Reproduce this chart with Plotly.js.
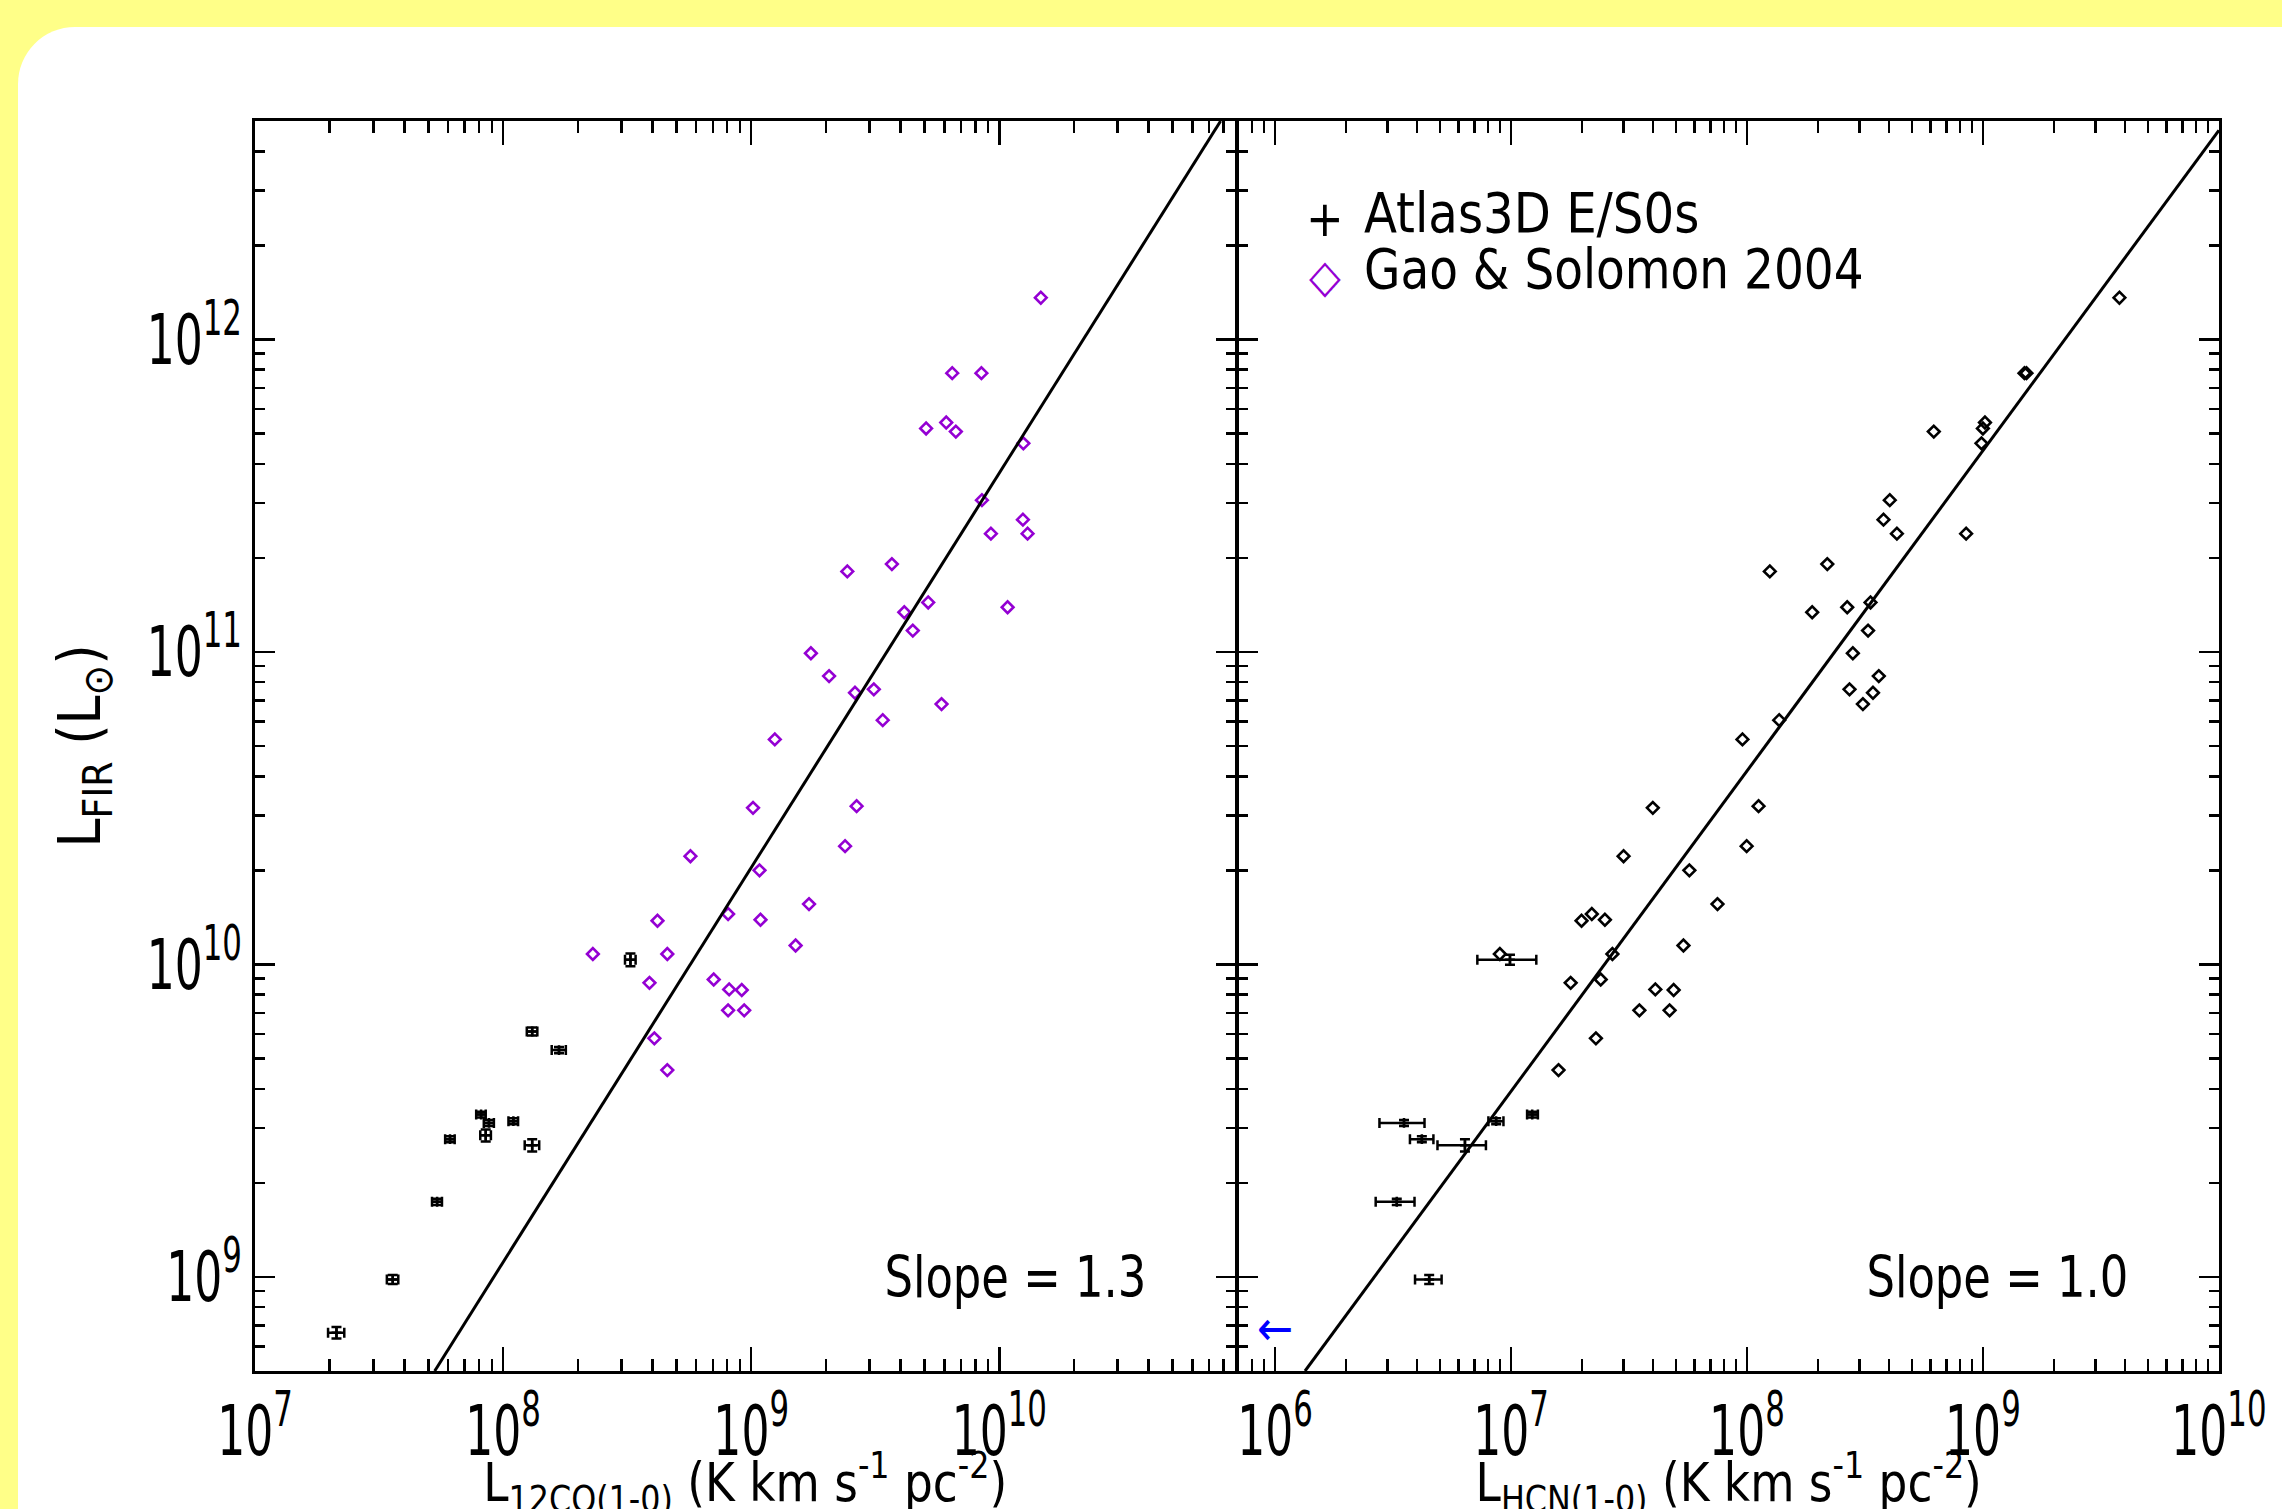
<!DOCTYPE html>
<html>
<head>
<meta charset="utf-8">
<script src="https://cdn.plot.ly/plotly-3.0.1.min.js"></script>
<style>
html, body { margin:0; padding:0; width:2282px; height:1509px; overflow:hidden; background:#ffff88; }
#panel { position:absolute; left:18px; top:27px; width:2400px; height:1600px; background:#ffffff; border-radius:57px; }
#chart { position:absolute; left:0; top:0; width:2282px; height:1509px; }
</style>
</head>
<body>
<div id="panel"></div>
<div id="chart"></div>
<script>
// ---------------- data ----------------
// Gao & Solomon 2004 sample
const gsFIR = [1.36e12, 7.8e11, 7.8e11, 5.19e11, 5.42e11, 5.07e11, 4.65e11, 3.06e11, 2.65e11, 2.39e11, 2.39e11,
  1.81e11, 1.91e11, 1.44e11, 1.34e11, 1.17e11, 1.39e11, 9.9e10, 8.37e10, 7.4e10, 7.59e10, 6.05e10, 6.81e10,
  5.25e10, 3.17e10, 3.21e10, 2.22e10, 2.39e10, 2.0e10, 1.56e10, 1.38e10, 1.45e10, 1.39e10, 1.15e10, 1.08e10,
  1.08e10, 8.73e9, 8.95e9, 8.32e9, 8.28e9, 7.13e9, 7.13e9, 5.8e9, 4.59e9];
const gsCO = [1.47e10, 6.46e9, 8.47e9, 5.07e9, 6.11e9, 6.68e9, 1.25e10, 8.51e9, 1.245e10, 9.25e9, 1.30e10,
  2.44e9, 3.69e9, 5.17e9, 4.14e9, 4.48e9, 1.08e10, 1.74e9, 2.06e9, 2.62e9, 3.12e9, 3.39e9, 5.85e9,
  1.245e9, 1.017e9, 2.66e9, 5.69e8, 2.39e9, 1.08e9, 1.71e9, 4.19e8, 8.07e8, 1.09e9, 1.51e9, 2.30e8,
  4.59e8, 3.89e8, 7.06e8, 8.15e8, 9.16e8, 8.07e8, 9.37e8, 4.07e8, 4.59e8];
const gsHCN = [3.79e9, 1.50e9, 1.53e9, 1.0e9, 1.02e9, 6.19e8, 9.86e8, 4.03e8, 3.79e8, 4.32e8, 8.49e8,
  1.25e8, 2.19e8, 3.34e8, 1.89e8, 3.26e8, 2.66e8, 2.81e8, 3.62e8, 3.42e8, 2.72e8, 1.37e8, 3.10e8,
  9.57e7, 3.99e7, 1.12e8, 3.0e7, 9.97e7, 5.7e7, 7.5e7, 1.99e7, 2.2e7, 2.5e7, 5.38e7, 8.97e6,
  2.69e7, 1.79e7, 2.4e7, 4.09e7, 4.89e7, 3.5e7, 4.7e7, 2.29e7, 1.59e7];

// Atlas3D E/S0s, CO panel
const atlasCO     = [2.13e7, 3.59e7, 5.42e7, 6.11e7, 8.15e7, 8.77e7, 8.51e7, 1.10e8, 1.31e8, 1.31e8, 1.68e8, 3.26e8];
const atlasCOerr  = [1.6e6, 1.9e6, 2.5e6, 2.7e6, 3.6e6, 4.1e6, 4.2e6, 4.9e6, 8.8e6, 6.4e6, 1.1e7, 1.6e7];
const atlasFIR    = [6.63e8, 9.82e8, 1.74e9, 2.76e9, 3.31e9, 3.11e9, 2.84e9, 3.15e9, 2.64e9, 6.1e9, 5.32e9, 1.035e10];
const atlasFIRerr = [2.8e7, 3.2e7, 4e7, 6e7, 7e7, 7e7, 1.25e8, 7e7, 1.2e8, 1.8e8, 1.2e8, 4.8e8];

// Atlas3D E/S0s, HCN panel
const atlasHCN          = [9.9e6, 3.52e6, 4.19e6, 6.38e6, 8.65e6, 1.23e7, 3.28e6, 4.5e6];
const atlasHCNerrPlus   = [2.9e6, 7.8e5, 5.0e5, 1.45e6, 6.4e5, 7e5, 6.2e5, 5.8e5];
const atlasHCNerrMinus  = [2.7e6, 7.5e5, 4.6e5, 1.5e6, 6.3e5, 6e5, 6.1e5, 5.8e5];
const atlasHcnFIR       = [1.035e10, 3.11e9, 2.76e9, 2.64e9, 3.15e9, 3.31e9, 1.74e9, 9.82e8];
const atlasHcnFIRerr    = [3.8e8, 7e7, 6e7, 1.2e8, 7e7, 7e7, 4e7, 3.2e7];

// HCN upper limit (arrow)
const ulHCN = [1.0e6];
const ulFIR = [6.63e8];

// fitted lines (end points)
const fitCOx  = [5.3e7, 7.8e10];
const fitCOy  = [5.0e8, 5.0e12];
const fitHCNx = [1.34e6, 1.0e10];
const fitHCNy = [5.0e8, 4.67e12];

const legendNames = ['Atlas3D E/S0s', 'Gao & Solomon 2004'];
const slopeLabels = ['Slope = 1.3', 'Slope = 1.0'];
const xTitles = ['L<sub>12CO(1-0)</sub> (K km s<sup>-1</sup> pc<sup>-2</sup>)',
                 'L<sub>HCN(1-0)</sub> (K km s<sup>-1</sup> pc<sup>-2</sup>)'];
const yTitle = 'L<sub>FIR</sub> (L<sub>⊙</sub>)';

// ---------------- styling ----------------
const FONT = '"DejaVu Sans Condensed", "DejaVu Sans", sans-serif';
const PURPLE = '#9400d3';

const errStyle = {type:'data', color:'black', thickness:2.5, width:5};

const traces = [
  {x: gsCO, y: gsFIR, xaxis:'x', yaxis:'y', mode:'markers', name: legendNames[1], showlegend:false,
   marker:{symbol:'diamond-open', size:9, color:PURPLE, line:{width:2.6, color:PURPLE}}},
  {x: atlasCO, y: atlasFIR, xaxis:'x', yaxis:'y', mode:'markers', name: legendNames[0], showlegend:false,
   error_x: Object.assign({array: atlasCOerr}, errStyle),
   error_y: Object.assign({array: atlasFIRerr}, errStyle),
   marker:{symbol:'cross-thin-open', size:7, color:'black', line:{width:2.5, color:'black'}}},
  {x: fitCOx, y: fitCOy, xaxis:'x', yaxis:'y', mode:'lines', showlegend:false,
   line:{color:'black', width:3}},
  {x: gsHCN, y: gsFIR, xaxis:'x2', yaxis:'y2', mode:'markers', name: legendNames[1], showlegend:false,
   marker:{symbol:'diamond-open', size:9, color:'black', line:{width:2.6, color:'black'}}},
  {x: atlasHCN, y: atlasHcnFIR, xaxis:'x2', yaxis:'y2', mode:'markers', name: legendNames[0], showlegend:false,
   error_x: Object.assign({array: atlasHCNerrPlus, arrayminus: atlasHCNerrMinus}, errStyle),
   error_y: Object.assign({array: atlasHcnFIRerr}, errStyle),
   marker:{symbol:'cross-thin-open', size:7, color:'black', line:{width:2.5, color:'black'}}},
  {x: fitHCNx, y: fitHCNy, xaxis:'x2', yaxis:'y2', mode:'lines', showlegend:false,
   line:{color:'black', width:3}},
  {x: ulHCN, y: ulFIR, xaxis:'x2', yaxis:'y2', mode:'text', text:['←'], textposition:'middle center',
   showlegend:false, textfont:{size:48, color:'#0000ff', family:FONT}, cliponaxis:false}
];

function logAxis(extra) {
  return Object.assign({
    type:'log', dtick:1, exponentformat:'power',
    showline:true, linewidth:3, linecolor:'black', mirror:'ticks',
    ticks:'inside', tickwidth:2.5, tickcolor:'black',
    showgrid:false, zeroline:false, automargin:false, ticklabeloverflow:'allow',
    tickfont:{size:56, color:'black', family:FONT}
  }, extra);
}

const GAP = 0.00076;   // half of a 3 px gap, so the two shared vertical lines coincide
const layout = {
  width:2282, height:1509,
  margin:{l:255, r:63, t:121, b:138, pad:0},
  paper_bgcolor:'rgba(0,0,0,0)', plot_bgcolor:'rgba(0,0,0,0)',
  font:{family:FONT, color:'black'},
  showlegend:false,
  xaxis: logAxis({domain:[0, 0.5 - GAP], anchor:'y', range:[7, 10.952], ticklen:24,
    minor:{ticks:'inside', ticklen:12, tickwidth:2.5, tickcolor:'black', dtick:'D1'},
    title:{text:xTitles[0], font:{size:54, color:'black', family:FONT}, standoff:12}}),
  xaxis2: logAxis({domain:[0.5 + GAP, 1], anchor:'y2', range:[Math.log10(7e5), 10.0005], ticklen:24,
    minor:{ticks:'inside', ticklen:12, tickwidth:2.5, tickcolor:'black', dtick:'D1'},
    title:{text:xTitles[1], font:{size:54, color:'black', family:FONT}, standoff:12}}),
  yaxis: logAxis({domain:[0,1], anchor:'x', range:[Math.log10(5e8), Math.log10(5e12)], ticklen:20,
    minor:{ticks:'inside', ticklen:10, tickwidth:2.5, tickcolor:'black', dtick:'D1'},
    title:{text:yTitle, font:{size:58, color:'black', family:FONT}, standoff:20}}),
  yaxis2: logAxis({domain:[0,1], anchor:'x2', range:[Math.log10(5e8), Math.log10(5e12)], ticklen:20,
    showticklabels:false,
    minor:{ticks:'inside', ticklen:10, tickwidth:2.5, tickcolor:'black', dtick:'D1'}}),
  annotations: [
    {xref:'paper', yref:'paper', x:0.4542, y:0.0752, xanchor:'right', yanchor:'middle', align:'right', showarrow:false,
     text:slopeLabels[0], font:{size:57, color:'black', family:FONT}, borderpad:0},
    {xref:'paper', yref:'paper', x:0.9542, y:0.0752, xanchor:'right', yanchor:'middle', align:'right', showarrow:false,
     text:slopeLabels[1], font:{size:57, color:'black', family:FONT}, borderpad:0},
    {xref:'paper', yref:'paper', x:0.5448, y:0.9216, xanchor:'center', yanchor:'middle', showarrow:false,
     text:'+', font:{size:50, color:'black', family:FONT}, borderpad:0},
    {xref:'paper', yref:'paper', x:0.5642, y:0.9264, xanchor:'left', yanchor:'middle', align:'left', showarrow:false,
     text:legendNames[0], font:{size:55, color:'black', family:FONT}, borderpad:0},
    {xref:'paper', yref:'paper', x:0.5448, y:0.876, xanchor:'center', yanchor:'middle', showarrow:false,
     text:'◇', font:{size:46, color:PURPLE, family:FONT}, borderpad:0},
    {xref:'paper', yref:'paper', x:0.5642, y:0.8816, xanchor:'left', yanchor:'middle', align:'left', showarrow:false,
     text:legendNames[1], font:{size:55, color:'black', family:FONT}, borderpad:0}
  ]
};

// the reference typeface is narrower: squeeze texts horizontally about their anchor point
function squeeze(root, selector, s) {
  root.querySelectorAll(selector).forEach(function (t) {
    const x = parseFloat(t.getAttribute('x')) || 0;
    const prev = t.getAttribute('transform') || '';
    t.setAttribute('transform', prev + ' translate(' + x + ',0) scale(' + s + ',1) translate(' + (-x) + ',0)');
  });
}
function shift(root, selector, dx, dy) {
  root.querySelectorAll(selector).forEach(function (t) {
    const prev = t.getAttribute('transform') || '';
    t.setAttribute('transform', 'translate(' + dx + ',' + dy + ') ' + prev);
  });
}

Plotly.newPlot('chart', traces, layout, {staticPlot:true, displayModeBar:false}).then(function (gd) {
  squeeze(gd, '.xtick text, .x2tick text, .ytick text', 0.7);
  squeeze(gd, '.xtitle, .x2title', 0.935);
  squeeze(gd, '.annotation[data-index="0"] text, .annotation[data-index="1"] text', 0.875);
  squeeze(gd, '.annotation[data-index="3"] text', 0.975);
  squeeze(gd, '.annotation[data-index="5"] text', 0.95);
  shift(gd, '.xtitle, .x2title', 0, 12);
  // right edge of the y tick labels and of the y title, as in the reference
  const yl = gd.querySelector('.ytick text');
  if (yl) {
    const r = yl.getBoundingClientRect();
    shift(gd, '.ytick text', 242 - r.right, 0);
  }
  const yt = gd.querySelector('.ytitle');
  if (yt) {
    const r = yt.getBoundingClientRect();
    shift(gd, '.ytitle', 122 - r.right, 0);
  }
});
</script>
</body>
</html>
